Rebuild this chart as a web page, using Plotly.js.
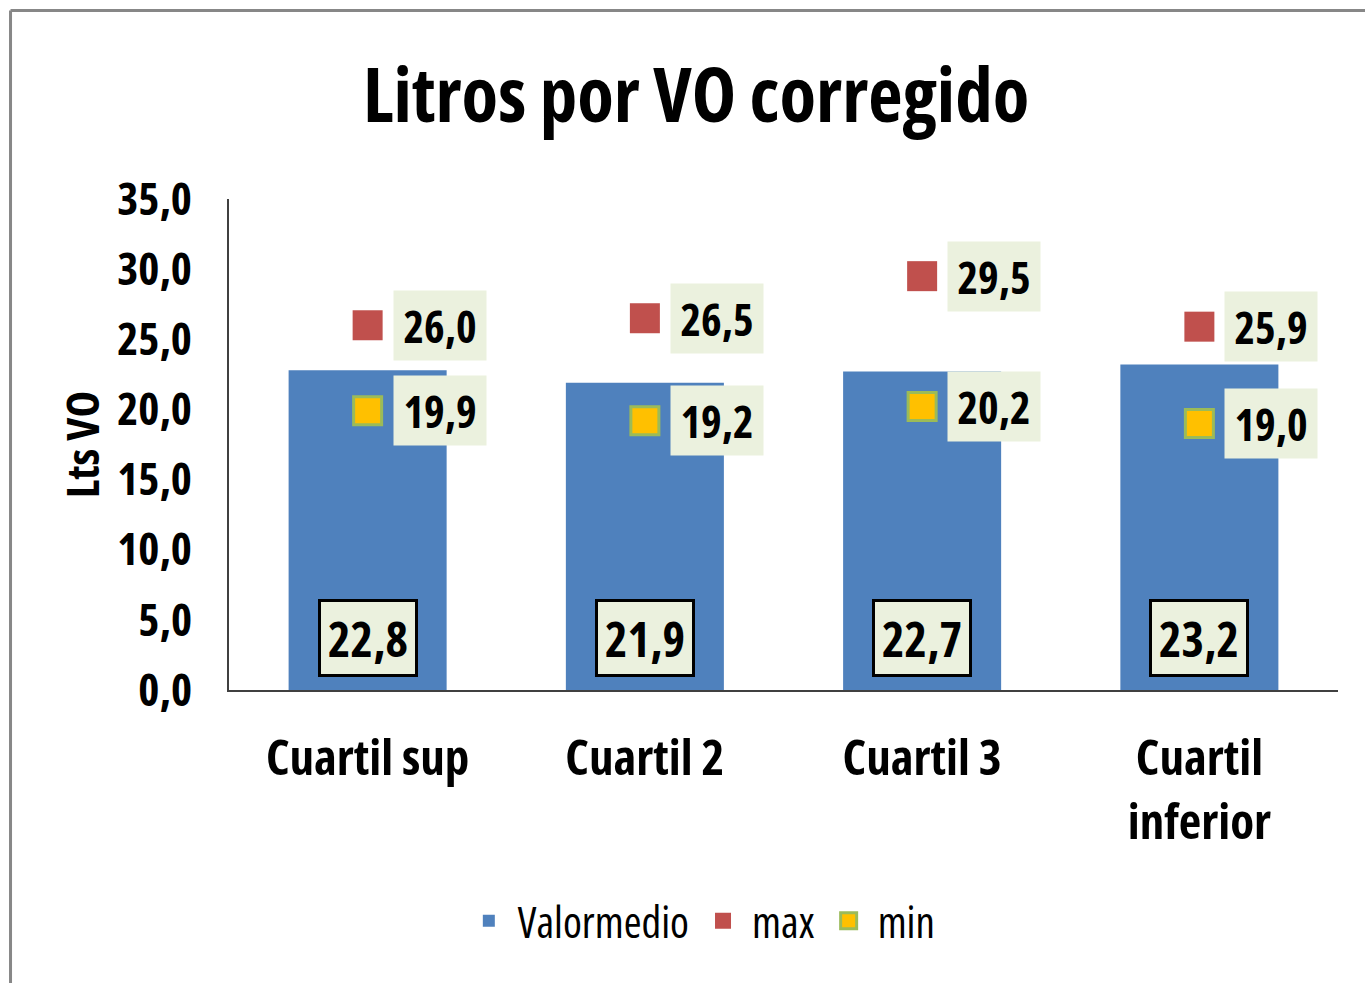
<!DOCTYPE html>
<html>
<head>
<meta charset="utf-8">
<script src="https://cdn.plot.ly/plotly-3.0.1.min.js"></script>
<style>
html,body{margin:0;padding:0;background:#fff;}
#chart{width:1365px;height:983px;}
text{font-stretch:condensed !important;}
</style>
</head>
<body>
<div id="chart"></div>
<script>
const categories = ["Cuartil sup", "Cuartil 2", "Cuartil 3", "Cuartil<br>inferior"];
const valorMedio = [22.8, 21.9, 22.7, 23.2];
const maxValues = [26.0, 26.5, 29.5, 25.9];
const minValues = [19.9, 19.2, 20.2, 19.0];
const yTickValues = [0, 5, 10, 15, 20, 25, 30, 35];

const FONT = "'Open Sans', sans-serif";
const fmt = v => v.toFixed(1).replace('.', ',');
const bold = (size) => ({family: FONT, size: size, color: '#000', weight: 'bold'});

const traces = [
  {type: 'bar', name: 'Valormedio', x: categories, y: valorMedio,
   marker: {color: '#4f81bd'}, width: 0.57, hoverinfo: 'skip'},
  {type: 'scatter', mode: 'markers', name: 'max', x: categories, y: maxValues,
   marker: {symbol: 'square', size: 30, color: '#c0504d', line: {width: 0}}, hoverinfo: 'skip'},
  {type: 'scatter', mode: 'markers', name: 'min', x: categories, y: minValues,
   marker: {symbol: 'square', size: 28, color: '#ffc000', line: {width: 3, color: '#9bbb59'}}, hoverinfo: 'skip'}
];

const annotations = [];
categories.forEach((c, i) => {
  annotations.push({x: c, y: 0, xref: 'x', yref: 'y', yshift: 52, text: fmt(valorMedio[i]),
    showarrow: false, bgcolor: '#ebf1de', bordercolor: '#000', borderwidth: 3,
    width: 92, height: 70, font: bold(48)});
  annotations.push({x: c, y: maxValues[i], xref: 'x', yref: 'y', xshift: 72, text: fmt(maxValues[i]),
    showarrow: false, bgcolor: '#ebf1de', width: 90, height: 67, font: bold(44)});
  annotations.push({x: c, y: minValues[i], xref: 'x', yref: 'y', xshift: 72, text: fmt(minValues[i]),
    showarrow: false, bgcolor: '#ebf1de', width: 90, height: 67, font: bold(44)});
});

const layout = {
  width: 1365, height: 983,
  paper_bgcolor: '#fff', plot_bgcolor: '#fff',
  margin: {l: 229, r: 27, t: 199, b: 293},
  separators: ',.',
  title: {text: 'Litros por VO corregido', x: 0.51, xanchor: 'center', y: 0.903, yanchor: 'middle',
    font: bold(75)},
  showlegend: true,
  legend: {orientation: 'h', x: 0.425, xanchor: 'center', y: -0.47, yanchor: 'middle',
    font: {family: FONT, size: 43, color: '#000'}, itemsizing: 'trace', itemwidth: 48, traceorder: 'normal'},
  xaxis: {type: 'category', showline: true, linecolor: '#404040', linewidth: 2, ticks: '',
    ticklabelstandoff: 24, showgrid: false, zeroline: false, tickfont: bold(49)},
  yaxis: {range: [0, 35], tickvals: yTickValues, tickformat: '.1f', showline: true, linecolor: '#404040',
    linewidth: 2, ticks: '', ticklabelstandoff: 26, showgrid: false, zeroline: false, tickfont: bold(45),
    title: {text: 'Lts VO', standoff: 3, font: bold(45)}},
  bargap: 0.43,
  annotations: annotations,
  shapes: [
    {type: 'line', xref: 'paper', yref: 'paper', x0: -0.197, x1: 1.04, y0: 1.384, y1: 1.384,
     line: {color: '#878787', width: 3}},
    {type: 'line', xref: 'paper', yref: 'paper', x0: -0.197, x1: -0.197, y0: 1.384, y1: -0.62,
     line: {color: '#878787', width: 3}}
  ]
};

Plotly.newPlot('chart', traces, layout, {staticPlot: true});
</script>
</body>
</html>
